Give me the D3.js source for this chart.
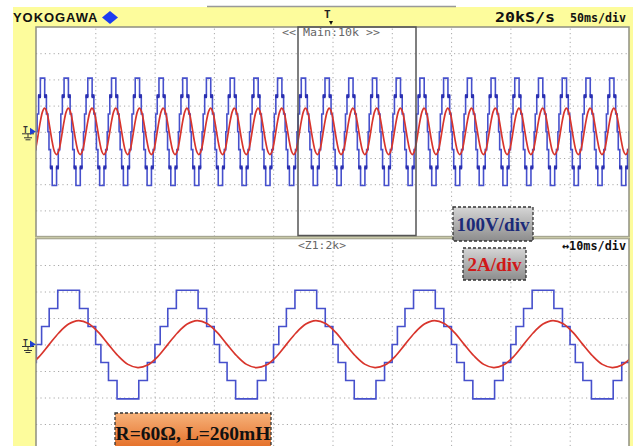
<!DOCTYPE html>
<html>
<head>
<meta charset="utf-8">
<script src="https://cdn.jsdelivr.net/npm/d3@7"></script>
<style>
  body { margin: 0; background: #fff; }
  svg { display: block; }
</style>
</head>
<body>
<div id="chart"></div>
<script>
// one period of each trace (angle in deg from the rising zero of the voltage)
const voltSteps = [[0, 0], [8, 68], [31, 136], [57, 205], [123, 136], [149, 68], [172, 0],
  [188, -68], [211, -136], [237, -205], [303, -136], [329, -68], [352, 0]];
const markAngles = [44, 136, 224, 316];
const markLevels = [136, 136, -136, -136];
const currAngles = [0, 30, 60, 90, 120, 150, 180, 210, 240, 270, 300, 330];
const currValues = [-0.93, -0.03, 0.87, 1.54, 1.80, 1.58, 0.93, 0.03, -0.85, -1.50, -1.74, -1.55];
const periodMs = 20;
const zeroMs = 0.5;
const mainSpanMs = 500;
const zoomSpanMs = 100;
const voltRange = [-400, 400];
const ampRange = [-8, 8];

const W = 633, H = 446;
const L = 36, R = 629;
const up = { top: 27, bottom: 236.6 };
const lo = { top: 238.5, bottom: 450.5 };

const svg = d3.select('#chart').append('svg').attr('width', W).attr('height', H);
const defs = svg.append('defs');

// background
svg.append('rect').attr('x', 13).attr('y', 7).attr('width', W - 13).attr('height', H - 7).attr('fill', '#fdfc9c');
svg.append('line').attr('x1', 207).attr('x2', 456).attr('y1', 6.5).attr('y2', 6.5)
  .attr('stroke', '#999').attr('stroke-width', 1.5);

// gradients for the labels
const g1 = defs.append('linearGradient').attr('id', 'gray').attr('x1', 0).attr('y1', 0).attr('x2', 0).attr('y2', 1);
g1.append('stop').attr('offset', '0%').attr('stop-color', '#d6d6d6');
g1.append('stop').attr('offset', '100%').attr('stop-color', '#8c8c8c');
const g2 = defs.append('linearGradient').attr('id', 'orange').attr('x1', 0).attr('y1', 0).attr('x2', 0).attr('y2', 1);
g2.append('stop').attr('offset', '0%').attr('stop-color', '#f6b27a');
g2.append('stop').attr('offset', '100%').attr('stop-color', '#e2651c');

function panel(p, span, id) {
  const x = d3.scaleLinear().domain([0, span]).range([L, R]);
  const yV = d3.scaleLinear().domain(voltRange).range([p.bottom, p.top]);
  const yA = d3.scaleLinear().domain(ampRange).range([p.bottom, p.top]);

  svg.append('rect').attr('x', L).attr('y', p.top).attr('width', R - L).attr('height', p.bottom - p.top)
    .attr('fill', '#fff');

  defs.append('clipPath').attr('id', id).append('rect')
    .attr('x', L).attr('y', p.top).attr('width', R - L).attr('height', Math.min(p.bottom, H) - p.top);

  const g = svg.append('g').attr('clip-path', 'url(#' + id + ')');

  // dotted grid
  g.append('g').attr('transform', 'translate(0,' + p.bottom + ')')
    .call(d3.axisBottom(x).tickValues(d3.range(1, 10).map(i => i * span / 10))
      .tickSize(-(p.bottom - p.top)).tickFormat(''))
    .call(a => a.select('.domain').remove())
    .call(a => a.selectAll('line').attr('stroke', '#a8a8a8').attr('stroke-dasharray', '1.2,3.2'));
  g.append('g').attr('transform', 'translate(' + L + ',0)')
    .call(d3.axisLeft(yV).tickValues(d3.range(-300, 301, 100)).tickSize(-(R - L)).tickFormat(''))
    .call(a => a.select('.domain').remove())
    .call(a => a.selectAll('line').attr('stroke', '#a8a8a8').attr('stroke-dasharray', '1.2,3.2'));

  const nPer = Math.ceil(span / periodMs) + 1;
  const vPts = [], aPts = [], marks = [];
  for (let k = -1; k <= nPer; k++) {
    voltSteps.forEach(s => vPts.push([zeroMs + (k + s[0] / 360) * periodMs, s[1]]));
    currAngles.forEach((a, i) => aPts.push([zeroMs + (k + a / 360) * periodMs, currValues[i]]));
    markAngles.forEach((a, i) => marks.push([zeroMs + (k + a / 360) * periodMs, markLevels[i]]));
  }

  const vLine = d3.line().x(d => x(d[0])).y(d => yV(d[1])).curve(d3.curveStepAfter);
  const aLine = d3.line().x(d => x(d[0])).y(d => yA(d[1])).curve(d3.curveCatmullRom);

  g.append('path').attr('d', vLine(vPts)).attr('fill', 'none')
    .attr('stroke', '#4650cc').attr('stroke-width', 1.6);

  // sample markers on the shoulder steps (main view only)
  if (span === mainSpanMs) {
    g.selectAll('.mk').data(marks).enter().append('rect')
      .attr('x', d => x(d[0]) - 1.5).attr('y', d => yV(d[1]) - 2)
      .attr('width', 3).attr('height', 4).attr('fill', '#2a2fb0');
  }

  g.append('path').attr('d', aLine(aPts)).attr('fill', 'none')
    .attr('stroke', '#d8352c').attr('stroke-width', 1.7);

  svg.append('rect').attr('x', L).attr('y', p.top).attr('width', R - L).attr('height', p.bottom - p.top)
    .attr('fill', 'none').attr('stroke', '#8f8f80').attr('stroke-width', 1.5);

  // ground / level marker
  const cy = yV(0);
  const m = svg.append('g');
  m.append('text').attr('x', 23).attr('y', cy + 1).attr('font-family', 'DejaVu Sans Mono')
    .attr('font-size', 8).attr('font-weight', 'bold').attr('fill', '#333').text('T');
  m.append('line').attr('x1', 22).attr('x2', 34).attr('y1', cy + 2).attr('y2', cy + 2).attr('stroke', '#333');
  m.append('line').attr('x1', 28).attr('x2', 28).attr('y1', cy + 2).attr('y2', cy + 6).attr('stroke', '#333');
  m.append('line').attr('x1', 24).attr('x2', 32).attr('y1', cy + 6).attr('y2', cy + 6).attr('stroke', '#333');
  m.append('line').attr('x1', 25.5).attr('x2', 30.5).attr('y1', cy + 8).attr('y2', cy + 8).attr('stroke', '#333');
  m.append('path').attr('d', `M${L - 6},${cy - 4}L${L},${cy}L${L - 6},${cy + 3}Z`).attr('fill', '#2040d0');

  return x;
}

panel(up, mainSpanMs, 'clipUp');
panel(lo, zoomSpanMs, 'clipLo');

// band between panels
svg.append('rect').attr('x', L).attr('y', up.bottom).attr('width', R - L).attr('height', lo.top - up.bottom)
  .attr('fill', '#c9c9a8');

// zoom window in the main trace
svg.append('rect').attr('x', 298).attr('y', up.top).attr('width', 118).attr('height', 208.5)
  .attr('fill', 'none').attr('stroke', '#555').attr('stroke-width', 1.5);

// texts
const mono = 'DejaVu Sans Mono';
svg.append('text').attr('x', 13).attr('y', 22).attr('font-family', 'Liberation Sans')
  .attr('font-weight', 'bold').attr('font-size', 13).attr('textLength', 84).attr('letter-spacing', -0.5)
  .attr('fill', '#111').text('YOKOGAWA');
svg.append('path').attr('d', 'M110,11L118,17.5L110,24L102,17.5Z').attr('fill', '#1c3df0');

svg.append('text').attr('x', 324).attr('y', 18).attr('font-family', mono).attr('font-weight', 'bold')
  .attr('font-size', 11).attr('fill', '#222').text('T');
svg.append('path').attr('d', 'M329,21L333,21L331,25Z').attr('fill', '#111');

svg.append('text').attr('x', 495).attr('y', 22).attr('font-family', mono).attr('font-weight', 'bold')
  .attr('font-size', 14).attr('textLength', 60).attr('lengthAdjust', 'spacingAndGlyphs')
  .attr('fill', '#111').text('20kS/s');
svg.append('text').attr('x', 570).attr('y', 22).attr('font-family', mono).attr('font-weight', 'bold')
  .attr('font-size', 12).attr('textLength', 56).attr('lengthAdjust', 'spacingAndGlyphs')
  .attr('fill', '#111').text('50ms/div');

svg.append('text').attr('x', 282).attr('y', 35.5).attr('font-family', mono).attr('font-size', 10.5)
  .attr('textLength', 98).attr('lengthAdjust', 'spacingAndGlyphs').attr('fill', '#666').text('<< Main:10k >>');
svg.append('text').attr('x', 298).attr('y', 249).attr('font-family', mono).attr('font-size', 10.5)
  .attr('textLength', 48).attr('lengthAdjust', 'spacingAndGlyphs').attr('fill', '#666').text('<Z1:2k>');
svg.append('text').attr('x', 562).attr('y', 250).attr('font-family', mono).attr('font-weight', 'bold')
  .attr('font-size', 12).attr('textLength', 64).attr('lengthAdjust', 'spacingAndGlyphs')
  .attr('fill', '#111').text('\u219410ms/div');

function tag(x, y, w, h, fill, color, size, label) {
  svg.append('rect').attr('x', x).attr('y', y).attr('width', w).attr('height', h)
    .attr('fill', fill).attr('stroke', '#333').attr('stroke-width', 1.3).attr('stroke-dasharray', '3,2');
  svg.append('text').attr('x', x + w / 2).attr('y', y + h / 2 + size * 0.35).attr('text-anchor', 'middle')
    .attr('font-family', 'Liberation Serif').attr('font-weight', 'bold').attr('font-size', size)
    .attr('fill', color).text(label);
}
tag(453, 207, 80, 34, 'url(#gray)', '#1b2a78', 19, '100V/div');
tag(463, 248, 63, 32, 'url(#gray)', '#d01818', 19, '2A/div');
tag(115, 413, 156, 40, 'url(#orange)', '#111', 19.5, 'R=60\u03a9, L=260mH');
</script>
</body>
</html>
